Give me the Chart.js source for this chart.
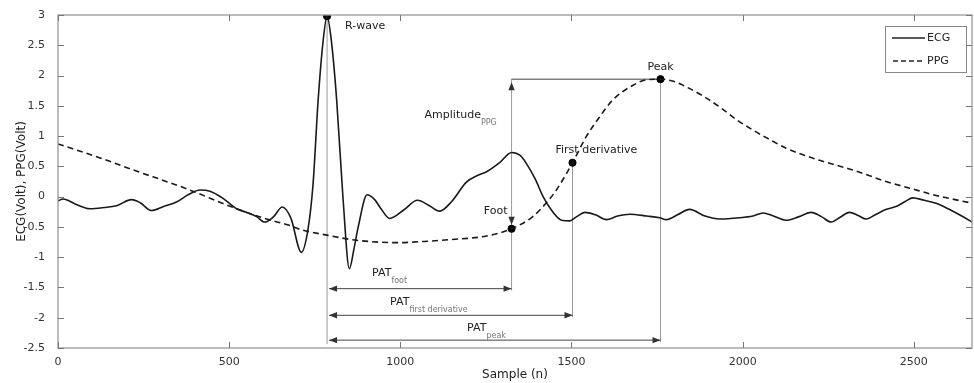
<!DOCTYPE html>
<html>
<head>
<meta charset="utf-8">
<script src="https://cdn.jsdelivr.net/npm/chart.js@4.4.0/dist/chart.umd.min.js"></script>
<style>
  html, body { margin: 0; padding: 0; background: #fff; }
  #wrap { width: 974px; height: 383px; }
</style>
</head>
<body>
<div id="wrap"><canvas id="patChart" width="974" height="383"></canvas></div>
<script>
// ECG trace (sample index, volts)
const ecgSamples = [0, 15, 50, 93, 135, 171, 215, 240, 273, 310, 346, 380, 415, 444, 480, 522, 551, 580, 604, 630, 655, 680, 711, 730, 745, 760, 775, 786, 798, 814, 833, 851, 865, 877, 903, 925, 940, 969, 1010, 1050, 1085, 1115, 1150, 1193, 1225, 1252, 1290, 1325, 1350, 1368, 1395, 1417, 1445, 1471, 1495, 1515, 1539, 1570, 1602, 1635, 1670, 1720, 1758, 1777, 1810, 1845, 1890, 1933, 1990, 2030, 2060, 2090, 2127, 2165, 2200, 2230, 2259, 2285, 2312, 2337, 2361, 2390, 2420, 2450, 2475, 2497, 2530, 2565, 2600, 2640, 2673];
const ecgVolts = [-0.07, -0.04, -0.12, -0.2, -0.18, -0.15, -0.05, -0.1, -0.23, -0.16, -0.09, 0.03, 0.11, 0.09, -0.02, -0.2, -0.26, -0.33, -0.42, -0.33, -0.17, -0.35, -0.92, -0.55, 0.2, 1.6, 2.6, 2.98, 2.6, 1.6, -0.06, -1.19, -0.85, -0.5, 0.03, -0.05, -0.17, -0.36, -0.22, -0.06, -0.15, -0.24, -0.08, 0.24, 0.35, 0.41, 0.56, 0.73, 0.68, 0.55, 0.28, 0.0, -0.25, -0.39, -0.4, -0.33, -0.26, -0.3, -0.38, -0.32, -0.29, -0.32, -0.35, -0.38, -0.3, -0.21, -0.32, -0.37, -0.35, -0.32, -0.27, -0.32, -0.39, -0.33, -0.26, -0.33, -0.42, -0.34, -0.26, -0.31, -0.37, -0.29, -0.21, -0.16, -0.08, -0.02, -0.06, -0.11, -0.2, -0.32, -0.43];

// PPG trace (sample index, volts)
const ppgSamples = [0, 123, 220, 366, 522, 609, 673, 707, 789, 872, 989, 1070, 1145, 1252, 1325, 1387, 1430, 1456, 1503, 1543, 1580, 1621, 1680, 1719, 1760, 1800, 1836, 1885, 1933, 1980, 2030, 2080, 2127, 2225, 2322, 2419, 2488, 2565, 2672];
const ppgVolts = [0.87, 0.64, 0.44, 0.15, -0.2, -0.37, -0.47, -0.54, -0.64, -0.72, -0.76, -0.74, -0.71, -0.65, -0.53, -0.33, -0.08, 0.11, 0.56, 0.99, 1.3, 1.6, 1.84, 1.93, 1.94, 1.9, 1.81, 1.66, 1.48, 1.28, 1.10, 0.94, 0.80, 0.60, 0.44, 0.25, 0.14, 0.02, -0.11];

// fiducial points: R-wave, PPG foot, max first derivative, PPG peak
const markerNames = ['R-wave', 'Foot', 'First derivative', 'Peak'];
const markerSamples = [786, 1325, 1503, 1760];
const markerVolts = [2.98, -0.53, 0.56, 1.94];

const xTicks = [0, 500, 1000, 1500, 2000, 2500];
const yTicks = [-2.5, -2, -1.5, -1, -0.5, 0, 0.5, 1, 1.5, 2, 2.5, 3];

// PAT arrows sit at these volt levels below the traces
const patNames = ['foot', 'first derivative', 'peak'];
const patLevels = [-1.52, -1.96, -2.37];

const FONT = '"DejaVu Sans", sans-serif';

function arrowHead(ctx, x, y, dir) {
    // dir: 'l', 'r', 'u', 'd'
    const len = 8, half = 3.2;
    ctx.beginPath();
    if (dir === 'l') { ctx.moveTo(x, y); ctx.lineTo(x + len, y - half); ctx.lineTo(x + len, y + half); }
    if (dir === 'r') { ctx.moveTo(x, y); ctx.lineTo(x - len, y - half); ctx.lineTo(x - len, y + half); }
    if (dir === 'u') { ctx.moveTo(x, y); ctx.lineTo(x - half, y + len); ctx.lineTo(x + half, y + len); }
    if (dir === 'd') { ctx.moveTo(x, y); ctx.lineTo(x - half, y - len); ctx.lineTo(x + half, y - len); }
    ctx.closePath();
    ctx.fill();
}

function subText(ctx, main, sub, x, y, size) {
    ctx.font = size + 'px ' + FONT;
    ctx.fillStyle = '#222';
    ctx.textAlign = 'left';
    ctx.textBaseline = 'middle';
    ctx.fillText(main, x, y);
    const w = ctx.measureText(main).width;
    ctx.font = '8px ' + FONT;
    ctx.fillStyle = '#777';
    ctx.fillText(sub, x + w, y + 8);
}

const patPlugin = {
    id: 'patAnnotations',
    beforeDatasetsDraw(chart) {
        const { ctx, scales: { x, y } } = chart;
        const px = markerSamples.map(v => x.getPixelForValue(v));
        const py = markerVolts.map(v => y.getPixelForValue(v));
        const lv = patLevels.map(v => y.getPixelForValue(v));
        ctx.save();
        ctx.lineWidth = 1;
        ctx.strokeStyle = '#999';
        // vertical drop lines
        ctx.beginPath();
        ctx.moveTo(px[0], py[0]); ctx.lineTo(px[0], lv[2] + 4);
        ctx.moveTo(px[1], py[3]); ctx.lineTo(px[1], lv[0] + 2);
        ctx.moveTo(px[2], py[2]); ctx.lineTo(px[2], lv[1] + 2);
        ctx.moveTo(px[3], py[3]); ctx.lineTo(px[3], lv[2] + 2);
        ctx.stroke();
        // peak level line
        ctx.strokeStyle = '#444';
        ctx.beginPath();
        ctx.moveTo(px[1], py[3]); ctx.lineTo(px[3], py[3]);
        ctx.stroke();
        ctx.restore();
    },
    afterDatasetsDraw(chart) {
        const { ctx, chartArea: a, scales: { x, y } } = chart;
        const px = markerSamples.map(v => x.getPixelForValue(v));
        const py = markerVolts.map(v => y.getPixelForValue(v));
        const lv = patLevels.map(v => y.getPixelForValue(v));
        ctx.save();

        // PAT double arrows
        ctx.strokeStyle = '#444';
        ctx.fillStyle = '#333';
        ctx.lineWidth = 1;
        const ends = [px[1], px[2], px[3]];
        ends.forEach((xe, i) => {
            ctx.beginPath();
            ctx.moveTo(px[0] + 2, lv[i]); ctx.lineTo(xe, lv[i]);
            ctx.stroke();
            arrowHead(ctx, px[0] + 2, lv[i], 'l');
            arrowHead(ctx, xe, lv[i], 'r');
        });
        // amplitude arrow
        arrowHead(ctx, px[1], py[3] + 3, 'u');
        arrowHead(ctx, px[1], py[1] - 4, 'd');

        // markers labels
        ctx.fillStyle = '#222';
        ctx.font = '11px ' + FONT;
        ctx.textBaseline = 'middle';
        ctx.textAlign = 'left';
        ctx.fillText(markerNames[0], px[0] + 18, py[0] + 10);
        ctx.textAlign = 'right';
        ctx.fillText(markerNames[1], px[1] - 4, py[1] - 18);
        ctx.textAlign = 'left';
        ctx.fillText(markerNames[2], px[2] - 17, py[2] - 13);
        ctx.textAlign = 'center';
        ctx.fillText(markerNames[3], px[3], py[3] - 12);

        subText(ctx, 'Amplitude', 'PPG', px[1] - 87, y.getPixelForValue(1.35), 11);
        const patOffsets = [45, 63, 140];
        const patLift = [16, 13, 12];
        patNames.forEach((n, i) => {
            subText(ctx, 'PAT', n, px[0] + patOffsets[i], lv[i] - patLift[i], 11);
        });

        // axes box with inward ticks
        ctx.strokeStyle = '#999';
        ctx.lineWidth = 1.3;
        ctx.strokeRect(a.left, a.top, a.right - a.left, a.bottom - a.top);
        ctx.lineWidth = 1;
        ctx.strokeStyle = '#777';
        ctx.beginPath();
        xTicks.forEach(v => {
            const xp = Math.round(x.getPixelForValue(v)) + 0.5;
            ctx.moveTo(xp, a.bottom); ctx.lineTo(xp, a.bottom - 6);
            ctx.moveTo(xp, a.top); ctx.lineTo(xp, a.top + 6);
        });
        yTicks.forEach(v => {
            const yp = Math.round(y.getPixelForValue(v)) + 0.5;
            ctx.moveTo(a.left, yp); ctx.lineTo(a.left + 6, yp);
            ctx.moveTo(a.right, yp); ctx.lineTo(a.right - 6, yp);
        });
        ctx.stroke();

        // legend
        const lx = a.right - 87, ly = a.top + 11;
        ctx.fillStyle = '#fff';
        ctx.fillRect(lx, ly, 81, 46);
        ctx.strokeStyle = '#888';
        ctx.lineWidth = 1;
        ctx.strokeRect(lx + 0.5, ly + 0.5, 81, 46);
        ctx.strokeStyle = '#222';
        ctx.lineWidth = 1.5;
        ctx.beginPath();
        ctx.moveTo(lx + 7, ly + 12); ctx.lineTo(lx + 40, ly + 12);
        ctx.stroke();
        ctx.setLineDash([5, 3]);
        ctx.beginPath();
        ctx.moveTo(lx + 8, ly + 35); ctx.lineTo(lx + 40, ly + 35);
        ctx.stroke();
        ctx.setLineDash([]);
        ctx.fillStyle = '#222';
        ctx.font = '11px ' + FONT;
        ctx.textAlign = 'left';
        ctx.textBaseline = 'middle';
        ctx.fillText('ECG', lx + 42, ly + 12);
        ctx.fillText('PPG', lx + 42, ly + 35);
        ctx.restore();
    }
};

const ecgPoints = ecgSamples.map((s, i) => ({ x: s, y: ecgVolts[i] }));
const ppgPoints = ppgSamples.map((s, i) => ({ x: s, y: ppgVolts[i] }));
const markerPoints = markerSamples.map((s, i) => ({ x: s, y: markerVolts[i] }));

new Chart(document.getElementById('patChart'), {
    type: 'line',
    data: {
        datasets: [
            {
                label: 'ECG',
                data: ecgPoints,
                borderColor: '#1a1a1a',
                borderWidth: 1.6,
                pointRadius: 0,
                cubicInterpolationMode: 'monotone'
            },
            {
                label: 'PPG',
                data: ppgPoints,
                borderColor: '#1a1a1a',
                borderWidth: 1.6,
                borderDash: [6, 4],
                pointRadius: 0,
                cubicInterpolationMode: 'monotone'
            },
            {
                type: 'scatter',
                label: 'markers',
                data: markerPoints,
                pointRadius: 3.6,
                pointBackgroundColor: '#000',
                pointBorderColor: '#000',
                showLine: false
            }
        ]
    },
    options: {
        responsive: false,
        animation: false,
        devicePixelRatio: 1,
        layout: { autoPadding: false, padding: { top: 15, right: 2, left: 0, bottom: 0 } },
        plugins: { legend: { display: false }, tooltip: { enabled: false } },
        scales: {
            x: {
                type: 'linear',
                min: 0,
                max: 2670,
                grid: { display: false },
                border: { display: false },
                afterBuildTicks: s => { s.ticks = xTicks.map(v => ({ value: v })); },
                afterFit: s => { s.height = 35; },
                ticks: { color: '#333', font: { family: FONT, size: 11 }, padding: 0, maxRotation: 0, autoSkip: false, callback: v => String(v) },
                title: { display: true, text: 'Sample (n)', color: '#222', font: { family: FONT, size: 12 }, padding: { top: 0, bottom: 1 } }
            },
            y: {
                min: -2.5,
                max: 3,
                grid: { display: false },
                border: { display: false },
                afterBuildTicks: s => { s.ticks = yTicks.map(v => ({ value: v })); },
                afterFit: s => { s.width = 58; },
                ticks: { color: '#333', font: { family: FONT, size: 11 }, padding: 5, callback: v => String(v) },
                title: { display: true, text: 'ECG(Volt), PPG(Volt)', color: '#222', font: { family: FONT, size: 12 }, padding: { top: 15, bottom: 0 } }
            }
        }
    },
    plugins: [patPlugin]
});
</script>
</body>
</html>
